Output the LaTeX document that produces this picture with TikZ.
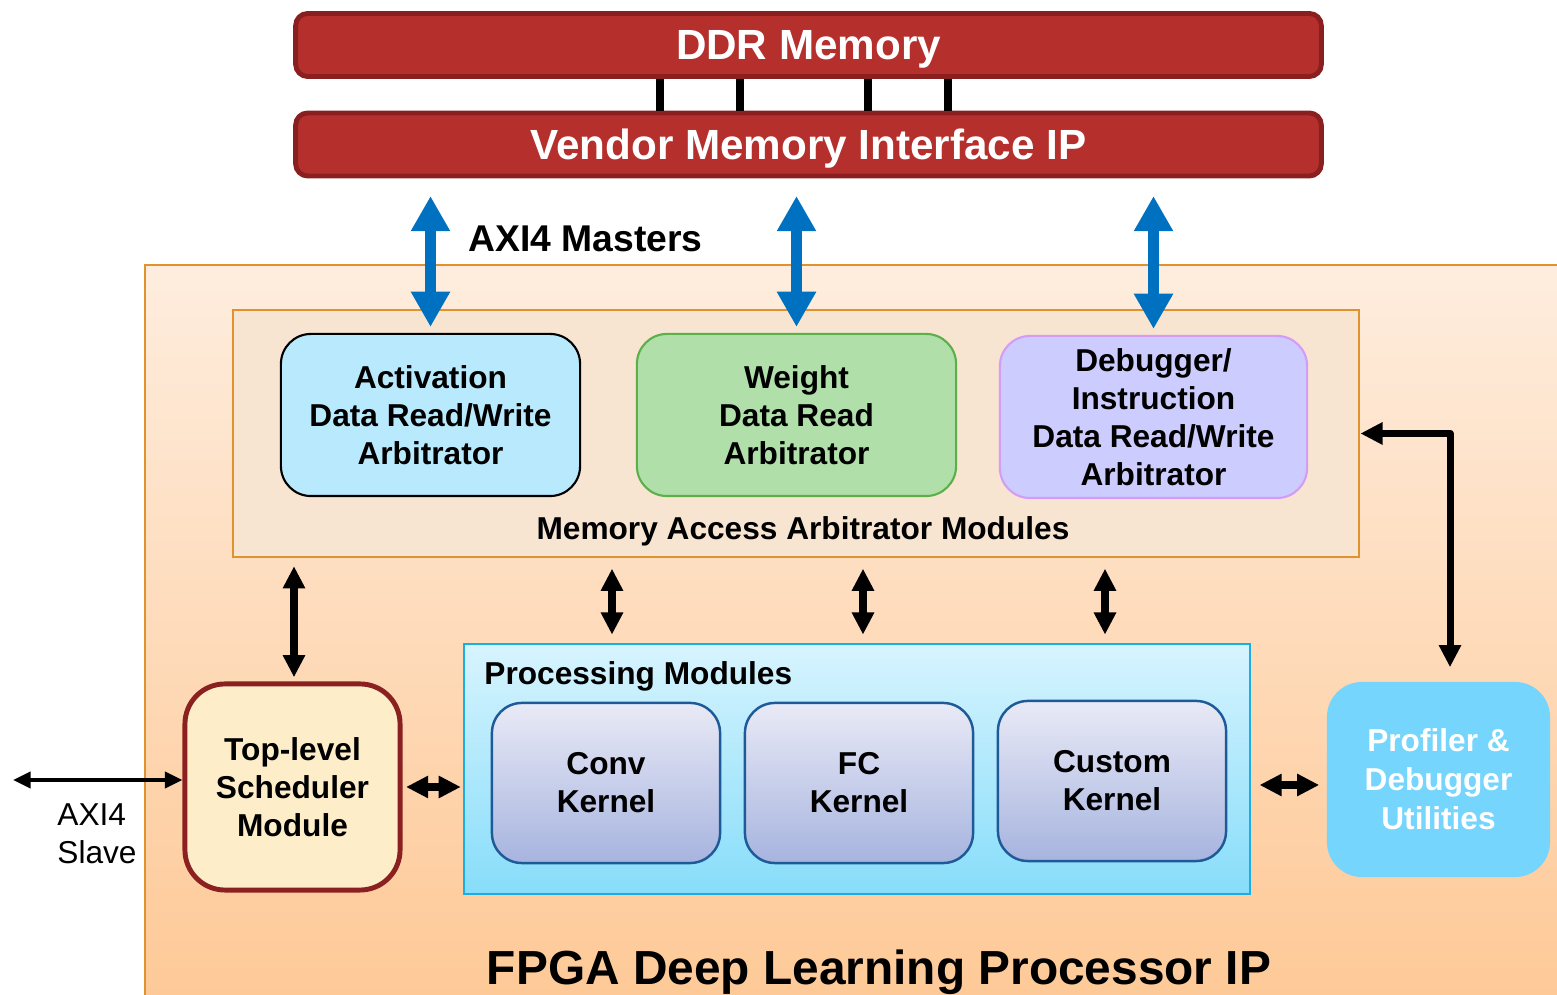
\documentclass[tikz,border=0pt]{standalone}
\usepackage{fontspec}
\setmainfont{Liberation Sans}
\usetikzlibrary{arrows.meta}

\definecolor{ddrred}{HTML}{B5302D}
\definecolor{ddredge}{HTML}{8A1F1F}
\definecolor{fpgatop}{HTML}{FEEDDE}
\definecolor{fpgabot}{HTML}{FEC691}
\definecolor{orangeedge}{HTML}{E0922F}
\definecolor{mamfill}{HTML}{F8E5D1}
\definecolor{actfill}{HTML}{B9E9FD}
\definecolor{wgtfill}{HTML}{B0DFAA}
\definecolor{wgtedge}{HTML}{5BB04A}
\definecolor{dbgfill}{HTML}{CCCCFF}
\definecolor{dbgedge}{HTML}{D39CF7}
\definecolor{schedfill}{HTML}{FDEDC9}
\definecolor{schededge}{HTML}{8B2020}
\definecolor{proctop}{HTML}{D7F4FE}
\definecolor{procbot}{HTML}{87DDFA}
\definecolor{procedge}{HTML}{1AAEE3}
\definecolor{kerntop}{HTML}{E9EAF6}
\definecolor{kernbot}{HTML}{A7B4DF}
\definecolor{kernedge}{HTML}{1E5A98}
\definecolor{proffill}{HTML}{75D5FD}
\definecolor{axiblue}{HTML}{0070C0}

\begin{document}
\begin{tikzpicture}[x=0.01cm, y=-0.01cm,
    txt/.style={font=\fontsize{9}{10.8}\selectfont\bfseries, align=center},
    membar/.style={draw=ddredge, fill=ddrred, line width=1.4pt, rounded corners=0.12cm,
        minimum width=10.25cm, minimum height=0.63cm, text=white, text depth=0pt,
        font=\fontsize{12}{14}\selectfont\bfseries},
    arb/.style={txt, draw, line width=0.6pt, rounded corners=0.3cm,
        minimum height=1.62cm},
    kern/.style={txt, draw=kernedge, line width=0.7pt, rounded corners=0.3cm,
        top color=kerntop, bottom color=kernbot, minimum width=2.28cm, minimum height=1.6cm},
    axi/.style={draw=axiblue, line width=3.4pt, >={Triangle[width=10.5pt,length=10pt]}, <->},
    dbl/.style={line width=2pt, >={Triangle[width=6pt,length=6.3pt]}, <->},
    bus/.style={line width=2pt}]

                \clip (0,0) rectangle (1557,995);

                % Bộ nhớ DDR và IP giao tiếp
                \node[membar] (ddr) at (808.5,45) {DDR Memory};
                \node[membar] (vmi) at (808.5,144.5) {Vendor Memory Interface IP};
                \foreach \x in {660,740,868,948}
                    \draw[bus] (\x,0 |- ddr.south) -- (\x,0 |- vmi.north);

                % Khối FPGA (tràn ra ngoài mép phải và dưới)
                \draw[orangeedge, line width=0.6pt, top color=fpgatop, bottom color=fpgabot]
                    (145,265) rectangle (1620,1060);
                \node[txt, font=\fontsize{13.6}{16}\selectfont\bfseries] (fpga) at (879,972)
                    {FPGA Deep Learning Processor IP};

                % Các bộ phân xử truy cập bộ nhớ
                \node[draw=orangeedge, fill=mamfill, line width=0.6pt, minimum width=11.26cm,
                    minimum height=2.47cm] (mam) at (796,433.5) {};
                \node[txt] (mamlbl) at (803,531) {Memory Access Arbitrator Modules};
                \node[arb, fill=actfill, minimum width=2.99cm] (act) at (430.5,415)
                    {Activation\\Data Read/Write\\Arbitrator};
                \node[arb, draw=wgtedge, fill=wgtfill, minimum width=3.19cm] (wgt) at (796.5,415)
                    {Weight\\Data Read\\Arbitrator};
                \node[arb, draw=dbgedge, fill=dbgfill, minimum width=3.07cm] (dbg) at (1153.5,417)
                    {Debugger/\\Instruction\\Data Read/Write\\Arbitrator};

                % Các cổng AXI4 master
                \foreach \n in {act,wgt,dbg}
                    \draw[axi, shorten <=1.7pt, shorten >=5pt] (\n.north) -- (\n.north |- vmi.south);
                \node[txt, font=\fontsize{10.6}{12}\selectfont\bfseries, anchor=west] (masters)
                    at (456,239) {AXI4 Masters};

                % Bộ lập lịch
                \node[txt, draw=schededge, fill=schedfill, line width=1.4pt, rounded corners=0.4cm,
                    minimum width=2.15cm, minimum height=2.06cm] (sched) at (292.5,787)
                    {Top-level\\Scheduler\\Module};

                % Các module xử lý
                \node[draw=procedge, line width=0.7pt, top color=proctop, bottom color=procbot,
                    minimum width=7.86cm, minimum height=2.5cm] (proc) at (857,769) {};
                \node[txt, anchor=west] (proclbl) at (472,676) {Processing Modules};
                \node[kern] (conv) at (606,783) {Conv\\Kernel};
                \node[kern] (fc) at (859,783) {FC\\Kernel};
                \node[kern] (cust) at (1112,781) {Custom\\Kernel};

                % Tiện ích profiler
                \node[txt, fill=proffill, text=white, rounded corners=0.35cm,
                    minimum width=2.23cm, minimum height=1.95cm] (prof) at (1438.5,779.5)
                    {Profiler \&\\[0.3pt]Debugger\\[0.3pt]Utilities};

                % Các mũi tên hai chiều
                \draw[dbl, shorten <=2.3pt, shorten >=1.2pt] (294,0 |- mam.south) -- (294,0 |- sched.north);
                \foreach \x in {612,863,1105}
                    \draw[dbl, shorten <=3pt, shorten >=2.3pt] (\x,0 |- mam.south) -- (\x,0 |- proc.north);
                \draw[dbl, shorten <=1pt, shorten >=0.5pt] (sched.east) -- (sched.east -| proc.west);
                \draw[dbl, shorten <=2.3pt, shorten >=2pt] (proc.east |- 0,785) -- (prof.west |- 0,785);
                \draw[dbl, line join=round] (mam.east) -| ([xshift=0.115cm, yshift=0.14cm]prof.north);

                % Cổng AXI4 slave
                \coordinate (slave) at (13,780);
                \draw[line width=1pt, >={Triangle[width=4.6pt,length=5pt]}, <->]
                    (slave) -- (slave -| sched.west);
                \node[font=\fontsize{9}{11}\selectfont, align=left, anchor=north west] (slavelbl)
                    at (45,791) {AXI4\\Slave};
\end{tikzpicture}
\end{document}
